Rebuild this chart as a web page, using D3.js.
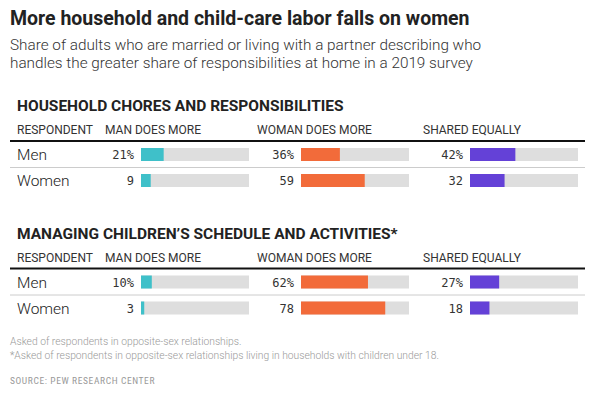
<!DOCTYPE html>
<html>
<head>
<meta charset="utf-8">
<script src="https://cdn.jsdelivr.net/npm/d3@7"></script>
<style>
  body { margin: 0; background: #fff; }
  svg { display: block; }
</style>
</head>
<body>
<div id="chart"></div>
<script>
// Chart data
const title = "More household and child-care labor falls on women";
const subtitle = ["Share of adults who are married or living with a partner describing who",
                  "handles the greater share of responsibilities at home in a 2019 survey"];
const sectionTitles = ["HOUSEHOLD CHORES AND RESPONSIBILITIES",
                       "MANAGING CHILDREN\u2019S SCHEDULE AND ACTIVITIES*"];
const columns = ["MAN DOES MORE", "WOMAN DOES MORE", "SHARED EQUALLY"];
const respondents = ["Men", "Women"];
const choresMen = [21, 36, 42];
const choresWomen = [9, 59, 32];
const childrenMen = [10, 62, 27];
const childrenWomen = [3, 78, 18];
const notes = ["Asked of respondents in opposite-sex relationships.",
               "*Asked of respondents in opposite-sex relationships living in households with children under 18."];
const source = "SOURCE: PEW RESEARCH CENTER";

const sections = [
  {title: sectionTitles[0], rows: [choresMen, choresWomen]},
  {title: sectionTitles[1], rows: [childrenMen, childrenWomen]}
];

// Layout
const width = 597, height = 394;
const colors = ["#3fc0c9", "#f26b3a", "#6441d7"];
const trackX = [141, 301, 470];
const headerX = [105, 257, 423];
const trackW = 108;
const sansFont = "Roboto, 'Liberation Sans', sans-serif";
const monoFont = "'DejaVu Sans Mono', monospace";

const svg = d3.select("#chart")
  .append("svg")
  .attr("width", width)
  .attr("height", height);

svg.append("text")
  .attr("x", 10).attr("y", 25)
  .style("font-family", sansFont)
  .style("font-weight", 700)
  .style("font-size", "19.5px")
  .style("fill", "#222")
  .text(title);

svg.selectAll(".sub")
  .data(subtitle)
  .enter()
  .append("text")
  .attr("x", 10)
  .attr("y", (d, i) => 50 + i * 18)
  .style("font-family", sansFont)
  .style("font-weight", 300)
  .style("font-size", "15.3px")
  .style("fill", "#333")
  .text(d => d);

const x = d3.scaleLinear().domain([0, 100]).range([0, trackW]);

// two rows, 13px bars on a 26px step
const rowY = d3.scaleBand()
  .domain(respondents)
  .range([0, 39])
  .paddingInner(0.5)
  .paddingOuter(0);

sections.forEach((sec, s) => {
  const g = svg.append("g")
    .attr("transform", `translate(0,${s * 127.5})`);

  g.append("text")
    .attr("x", 17).attr("y", 111)
    .style("font-family", sansFont)
    .style("font-weight", 700)
    .style("font-size", "15.5px")
    .style("fill", "#222")
    .text(sec.title);

  // Column headers
  g.append("text")
    .attr("x", 17).attr("y", 134)
    .style("font-family", sansFont)
    .style("font-size", "12px")
    .style("fill", "#333")
    .text("RESPONDENT");

  g.selectAll(".hdr")
    .data(columns)
    .enter()
    .append("text")
    .attr("x", (d, i) => headerX[i])
    .attr("y", 134)
    .style("font-family", sansFont)
    .style("font-size", "12px")
    .style("fill", "#333")
    .text(d => d);

  g.append("rect")
    .attr("x", 10).attr("y", 140)
    .attr("width", 575).attr("height", 2)
    .attr("fill", "#111");

  g.append("line")
    .attr("x1", 10).attr("x2", 585)
    .attr("y1", 167.5).attr("y2", 167.5)
    .attr("stroke", "#ccc");

  const body = g.append("g").attr("transform", "translate(0,148)");

  sec.rows.forEach((vals, r) => {
    const name = respondents[r];
    const y0 = rowY(name);
    const bh = rowY.bandwidth();

    body.append("text")
      .attr("x", 17).attr("y", y0 + bh / 2 + 5.5)
      .style("font-family", sansFont)
      .style("font-weight", 300)
      .style("font-size", "15.5px")
      .style("fill", "#222")
      .text(name);

    vals.forEach((v, c) => {
      body.append("rect")
        .attr("x", trackX[c]).attr("y", y0)
        .attr("width", x(100)).attr("height", bh)
        .attr("fill", "#dedede");

      body.append("rect")
        .attr("x", trackX[c]).attr("y", y0)
        .attr("width", x(v)).attr("height", bh)
        .attr("fill", colors[c]);

      body.append("text")
        .attr("x", trackX[c] - 7).attr("y", y0 + bh / 2 + 4.5)
        .attr("text-anchor", "end")
        .style("font-family", monoFont)
        .style("font-size", "12px")
        .style("fill", "#333")
        .text(r === 0 ? v + "%" : v);
    });
  });
});

svg.selectAll(".note")
  .data(notes)
  .enter()
  .append("text")
  .attr("x", 10)
  .attr("y", (d, i) => 345 + i * 14)
  .style("font-family", sansFont)
  .style("font-weight", 300)
  .style("font-size", "10.3px")
  .style("fill", "#999")
  .text(d => d);

svg.append("text")
  .attr("x", 10).attr("y", 384)
  .style("font-family", "'Liberation Sans Narrow', 'Roboto Condensed', sans-serif")
  .style("font-size", "9.5px")
  .style("letter-spacing", "0.6px")
  .style("fill", "#999")
  .text(source);
</script>
</body>
</html>
